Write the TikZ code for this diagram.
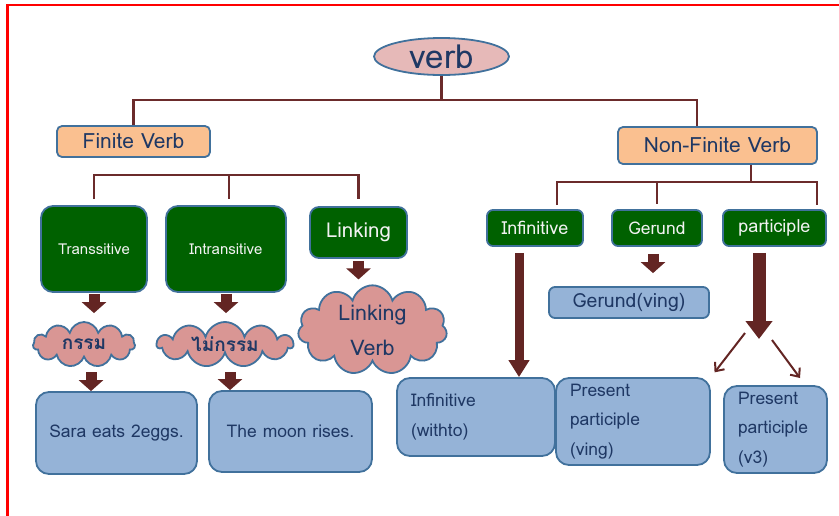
\documentclass[tikz,border=0pt]{standalone}
\usepackage{fontspec}
\setmainfont{Loma}
\newfontfamily\thaifont[Script=Thai]{Loma}
\usetikzlibrary{positioning, shapes, arrows.meta}
\definecolor{boxline}{HTML}{41719C}
\definecolor{greenbox}{HTML}{006100}
\definecolor{orangebox}{HTML}{FAC090}
\definecolor{bluebox}{HTML}{95B3D7}
\definecolor{cloudpink}{HTML}{D99694}
\definecolor{verbpink}{HTML}{E6B9B8}
\definecolor{navytext}{HTML}{1F3864}
\definecolor{branchred}{HTML}{6B2B2B}
\definecolor{blockred}{HTML}{632523}

\begin{document}
\begin{tikzpicture}[x=1pt, y=-1pt,
   base/.style={draw=boxline, line width=1.8pt, inner sep=0pt, text=navytext},
   head/.style={base, rounded corners=5pt, fill=orangebox, font=\fontsize{21}{24}\selectfont},
   kind/.style={base, rounded corners=9pt, fill=greenbox, text=white!95!black},
   result/.style={base, rounded corners=13pt, fill=bluebox, font=\fontsize{17.5}{29.5}\selectfont},
   bubble/.style={base, cloud, cloud puffs=11, cloud ignores aspect, fill=cloudpink},
   branch/.style={draw=branchred, line width=2.5pt},
   push/.style={draw=blockred, line width=11pt, -{Triangle[width=24pt, length=11pt]}},
   split/.style={draw=blockred, line width=2pt, -{Straight Barb[width=12pt, length=7pt]}}]
   \useasboundingbox (0,0) rectangle (839,515);
   \draw[red, line width=2.5pt] (7.5,525) |- (850,5);

   % Top level
   \node[base, ellipse, fill=verbpink, minimum width=135, minimum height=37,
      font=\fontsize{33}{34}\selectfont] (verb) at (441.5,56.5) {verb};
   \node[head, minimum width=153, minimum height=31] (finite) at (133.5,141.5) {Finite Verb};
   \node[head, minimum width=199, minimum height=37] (nonfinite) at (717.5,145.5) {Non-Finite Verb};

   % Finite verb kinds
   \node[kind, rounded corners=12pt, minimum width=106, minimum height=86,
      font=\fontsize{15}{17}\selectfont] (trans) at (94,249) {Transsitive};
   \node[kind, rounded corners=12pt, minimum width=120, minimum height=86,
      font=\fontsize{15}{17}\selectfont] (intrans) at (226,249) {Intransitive};
   \node[kind, minimum width=97, minimum height=51,
      font=\fontsize{20.5}{22}\selectfont] (linking) at (358.5,232.5) {Linking};

   % Non-finite verb kinds
   \node[kind, rounded corners=6pt, minimum width=96, minimum height=36,
      font=\fontsize{18}{20}\selectfont] (inf) at (535,228) {Infinitive};
   \node[kind, rounded corners=6pt, minimum width=90, minimum height=36,
      font=\fontsize{17.5}{20}\selectfont] (gerund) at (657,228) {Gerund};
   \node[kind, rounded corners=6pt, minimum width=103, minimum height=36,
      font=\fontsize{18}{20}\selectfont] (part) at (774.5,228) {participle};

   % Clouds
   \node[bubble, minimum width=102, minimum height=45, font=\thaifont\bfseries\fontsize{19}{22}\selectfont]
      (kam) at (84,344.5) {กรรม};
   \node[bubble, minimum width=136, minimum height=45, font=\thaifont\bfseries\fontsize{19}{22}\selectfont]
      (maikam) at (225,344.5) {ไม่กรรม};
   \node[bubble, minimum width=149, minimum height=86, align=center,
      font=\fontsize{21.5}{35}\selectfont] (linkverb) at (372.5,330) {Linking\\Verb};

   % Examples
   \node[result, rounded corners=6pt, minimum width=160, minimum height=31,
      font=\fontsize{19.5}{22}\selectfont] (gerving) at (629,302.5) {Gerund(ving)};
   \node[result, minimum width=161, minimum height=82] (sara) at (116.5,433) {Sara eats 2eggs.};
   \node[result, minimum width=163, minimum height=81] (moon) at (290.5,431.5) {The moon rises.};
   \node[result, minimum width=158, minimum height=78, text width=130, align=left]
      (infwith) at (476,417) {Infinitive\\(withto)};
   \node[result, minimum width=154, minimum height=87, text width=126, align=left]
      (ving) at (633,421.5) {Present\\participle\\(ving)};
   \node[result, minimum width=103, minimum height=87, text width=75, align=left]
      (vthree) at (775.5,429.5) {Present\\participle\\(v3)};

   % Tree lines
   \coordinate (nfdrop) at (697,100);
   \coordinate (fbus) at (229,175);
   \coordinate (nbus) at (751,182);
   \coordinate (infdrop) at (557,205);
   \coordinate (partdrop) at (817,205);
   \draw[branch] (verb) -- (verb.south |- nfdrop);
   \draw[branch] (finite.north) |- (nfdrop) -- (nfdrop |- nonfinite.north);
   \draw[branch, shorten <=6pt, shorten >=7pt] (trans.north) |- (fbus) -| (linking.north);
   \draw[branch, shorten >=6pt] (fbus) -- (fbus |- intrans.north);
   \draw[branch] (nonfinite.south -| nbus) -- (nbus);
   \draw[branch] (infdrop) |- (nbus) -| (partdrop);
   \draw[branch, shorten >=5pt] (nbus -| gerund.north) -- (gerund.north);

   % Block arrows
   \coordinate (lowrow) at (0,372);
   \draw[push, shorten <=1pt, shorten >=8pt] (trans.south) -- (trans.south |- kam.north);
   \draw[push, shorten <=1pt, shorten >=8pt] (intrans.south) -- (intrans.south |- maikam.north);
   \draw[push, shorten <=2pt, shorten >=5pt] (linking.south) -- (linking.south |- linkverb.north);
   \draw[push] ([xshift=7pt]kam.center |- lowrow) -- ([xshift=7pt]kam.center |- sara.north);
   \draw[push] ([xshift=5pt]maikam.center |- lowrow) -- ([xshift=5pt]maikam.center |- moon.north);
   \draw[push, shorten <=7pt, shorten >=13pt] ([xshift=-4pt]gerund.south) -- ([xshift=-4pt]gerund.south |- gerving.north);
   \draw[push, line width=9pt, -{Triangle[width=20pt, length=17pt]}, shorten <=6pt]
      ([xshift=-16pt]inf.south) -- ([xshift=-16pt]inf.south |- infwith.north);
   \coordinate (splitpt) at (759,339);
   \draw[push, line width=13pt, -{Triangle[width=26pt, length=18pt]}, shorten <=6pt]
      (part.south -| splitpt) -- (splitpt);

   % Split arrows
   \coordinate (splitL) at (745,333);
   \coordinate (splitR) at (772,340);
   \coordinate (veeR) at (800,378);
   \draw[split, shorten >=6pt] (splitL) -- (ving.north east);
   \draw[split] (splitR) -- (veeR);
\end{tikzpicture}
\end{document}
